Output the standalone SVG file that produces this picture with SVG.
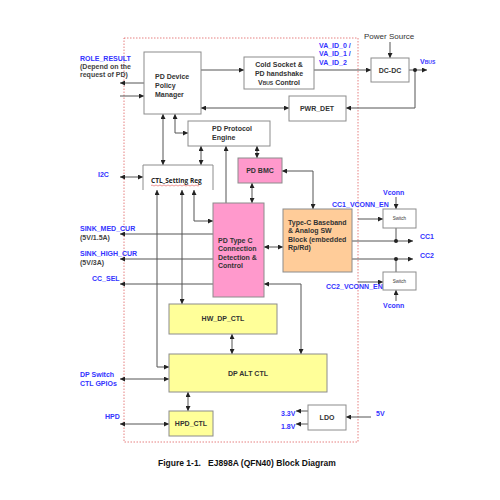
<svg xmlns="http://www.w3.org/2000/svg" width="500" height="500" viewBox="0 0 500 500">
<style>
.bx{fill:#fff;stroke:#8c8c8c;stroke-width:1}
.pk{fill:#ff99cc;stroke:#8c8c8c;stroke-width:1}
.yl{fill:#ffff99;stroke:#8c8c8c;stroke-width:1}
.og{fill:#ffcc99;stroke:#8c8c8c;stroke-width:1}
.t{font-family:"Liberation Sans",Arial,sans-serif;font-size:7px;font-weight:bold;fill:#333}
.ts{font-family:"Liberation Sans",Arial,sans-serif;font-size:4.5px;fill:#333}
.b{font-family:"Liberation Sans",Arial,sans-serif;font-size:7px;font-weight:bold;fill:#3333ff}
.n{font-family:"Liberation Sans",Arial,sans-serif;font-size:7px;font-weight:bold;fill:#444}
.w{font-family:"Liberation Sans",Arial,sans-serif;font-size:8px;fill:#333}
.c{fill:none;stroke:#555;stroke-width:1}
.a{marker-end:url(#ah)}
.d{marker-start:url(#ah);marker-end:url(#ah)}
</style>
<defs>
<marker id="ah" viewBox="0 0 6 6" refX="6" refY="3" markerWidth="5" markerHeight="5" markerUnits="userSpaceOnUse" orient="auto-start-reverse">
<path d="M0,0 L6,3 L0,6 z" fill="#222"/>
</marker>
</defs>
<rect width="500" height="500" fill="#fff"/>
<rect x="124" y="38" width="234" height="404" fill="none" stroke="#e06060" stroke-width="0.8" stroke-dasharray="1.5,1.5"/>

<g id="connectors">
<path class="c a" d="M144,83 H120"/>
<path class="c a" d="M120,96 H144"/>
<path class="c a" d="M201,70 H244"/>
<path class="c a" d="M314,70 H371"/>
<path class="c a" d="M390,42 V58"/>
<path class="c a" d="M409,70 H427"/>
<path class="c a" d="M415,70 V108 H346"/>
<path class="c d" d="M289,108 H201"/>
<path class="c d" d="M175,114 V133 H188"/>
<path class="c d" d="M163,114 V165"/>
<path class="c d" d="M201,146 V165"/>
<path class="c d" d="M120,177 H143"/>
<path class="c d" d="M257,146 V158"/>
<path class="c a" d="M226,203 V146"/>
<path class="c d" d="M282,171 H313 V209"/>
<path class="c d" d="M252,183 V203"/>
<path class="c d" d="M264,247 H283"/>
<path class="c d" d="M157,190 V367 H169"/>
<path class="c d" d="M182,190 V304"/>
<path class="c d" d="M194,190 V221 H213"/>
<path class="c a" d="M213,234 H120"/>
<path class="c a" d="M213,259 H120"/>
<path class="c a" d="M213,284 H120"/>
<path class="c d" d="M264,284 H301 V354"/>
<path class="c d" d="M232,334 V354"/>
<path class="c d" d="M120,379 H169"/>
<path class="c d" d="M188,392 V411"/>
<path class="c d" d="M120,424 H169"/>
<path class="c a" d="M371,417 H346"/>
<path class="c a" d="M308,411 H296"/>
<path class="c a" d="M308,424 H296"/>
<path class="c a" d="M358,219 H383"/>
<path class="c a" d="M396,197 V209"/>
<path class="c" d="M396,228 V241"/>
<path class="c a" d="M352,241 H413"/>
<path class="c a" d="M352,259 H413"/>
<path class="c" d="M396,259 V272"/>
<path class="c a" d="M358,282 H383"/>
<path class="c a" d="M396,301 V290"/>
<circle cx="415" cy="70" r="2" fill="#222"/>
<circle cx="396" cy="241" r="2" fill="#222"/>
<circle cx="396" cy="259" r="2" fill="#222"/>
</g>

<g id="pdm"><rect class="bx" x="144" y="52" width="57" height="62"/>
<text class="t" x="155" y="79">PD Device</text><text class="t" x="155" y="88">Policy</text><text class="t" x="155" y="97">Manager</text></g>

<g id="cold"><rect class="bx" x="244" y="57" width="70" height="32"/>
<text class="t" x="279" y="67" text-anchor="middle">Cold Socket &amp;</text>
<text class="t" x="279" y="76" text-anchor="middle">PD handshake</text>
<text class="t" x="279" y="85" text-anchor="middle">V<tspan font-size="5">BUS</tspan> Control</text></g>

<g id="dcdc"><rect class="bx" x="371" y="58" width="38" height="24"/>
<text class="t" x="390" y="73" text-anchor="middle">DC-DC</text></g>

<g id="pwrdet"><rect class="bx" x="289" y="96" width="57" height="25"/>
<text class="t" x="317" y="111" text-anchor="middle">PWR_DET</text></g>

<g id="protocol"><rect class="bx" x="188" y="121" width="82" height="25"/>
<text class="t" x="212" y="131">PD Protocol</text><text class="t" x="212" y="140">Engine</text></g>

<g id="ctlreg"><path class="bx" d="M143,190 V165 H213 V190" fill="none"/>
<text x="151" y="183" font-family="'Open Sans','Liberation Sans',sans-serif" font-size="6.5" font-weight="bold" fill="#222">CTL_Setting Reg</text>
<path d="M151,185.5 q1,-1 2,0 t2,0 t2,0 t2,0 t2,0 t2,0 t2,0 t2,0 t2,0 t2,0 t2,0 t2,0 t2,0 t2,0 t2,0 t2,0 t2,0 t2,0 t2,0 t2,0 t2,0 t2,0 t2,0 t2,0" fill="none" stroke="#e03030" stroke-width="0.5"/></g>

<g id="bmc"><rect class="pk" x="238" y="158" width="44" height="25"/>
<text class="t" x="260" y="173" text-anchor="middle">PD BMC</text></g>

<g id="typec"><rect class="pk" x="213" y="203" width="51" height="94"/>
<text class="t" x="218" y="243">PD Type C</text><text class="t" x="218" y="251">Connection</text>
<text class="t" x="218" y="260">Detection &amp;</text><text class="t" x="218" y="268">Control</text></g>

<g id="baseband"><rect class="og" x="283" y="209" width="69" height="63"/>
<text class="t" x="288" y="225">Type-C Baseband</text><text class="t" x="288" y="233">&amp; Analog SW</text>
<text class="t" x="288" y="242">Block (embedded</text><text class="t" x="288" y="250">Rp/Rd)</text></g>

<g id="switch1"><rect class="bx" x="383" y="209" width="33" height="19"/>
<text class="ts" x="399.5" y="220" text-anchor="middle">Switch</text></g>
<g id="switch2"><rect class="bx" x="383" y="272" width="33" height="18"/>
<text class="ts" x="399.5" y="283" text-anchor="middle">Switch</text></g>

<g id="hwdp"><rect class="yl" x="169" y="304" width="108" height="30"/>
<text class="t" x="223" y="321" text-anchor="middle">HW_DP_CTL</text></g>

<g id="dpalt"><rect class="yl" x="169" y="354" width="158" height="38"/>
<text class="t" x="248" y="376" text-anchor="middle">DP ALT CTL</text></g>

<g id="hpdctl"><rect class="yl" x="169" y="411" width="44" height="25"/>
<text class="t" x="191" y="426" text-anchor="middle">HPD_CTL</text></g>

<g id="ldo"><rect class="bx" x="308" y="405" width="38" height="25"/>
<text class="t" x="327" y="420" text-anchor="middle">LDO</text></g>

<g id="labels">
<text class="b" x="80" y="61">ROLE_RESULT</text>
<text class="n" x="80" y="69">(Depend on the</text>
<text class="n" x="80" y="77">request of PD)</text>
<text class="b" x="319" y="48">VA_ID_0 /</text>
<text class="b" x="319" y="56">VA_ID_1 /</text>
<text class="b" x="319" y="65">VA_ID_2</text>
<text class="w" x="364" y="39">Power Source</text>
<text class="b" x="420" y="64">V<tspan font-size="5">BUS</tspan></text>
<text class="b" x="98" y="177">I2C</text>
<text class="b" x="80" y="231">SINK_MED_CUR</text>
<text class="n" x="80" y="240">(5V/1.5A)</text>
<text class="b" x="80" y="256">SINK_HIGH_CUR</text>
<text class="n" x="80" y="265">(5V/3A)</text>
<text class="b" x="92" y="281">CC_SEL</text>
<text class="b" x="80" y="377">DP Switch</text>
<text class="b" x="80" y="386">CTL GPIOs</text>
<text class="b" x="105" y="419">HPD</text>
<text class="b" x="383" y="195">Vconn</text>
<text class="b" x="332" y="207">CC1_VCONN_EN</text>
<text class="b" x="420" y="239">CC1</text>
<text class="b" x="420" y="258">CC2</text>
<text class="b" x="326" y="289">CC2_VCONN_EN</text>
<text class="b" x="383" y="308">Vconn</text>
<text class="b" x="376" y="416">5V</text>
<text class="b" x="281" y="416">3.3V</text>
<text class="b" x="281" y="429">1.8V</text>
</g>
<text x="158" y="466" font-family="'Liberation Sans',Arial,sans-serif" font-size="8.5" font-weight="bold" fill="#111" xml:space="preserve">Figure 1-1.   EJ898A (QFN40) Block Diagram</text>
</svg>
